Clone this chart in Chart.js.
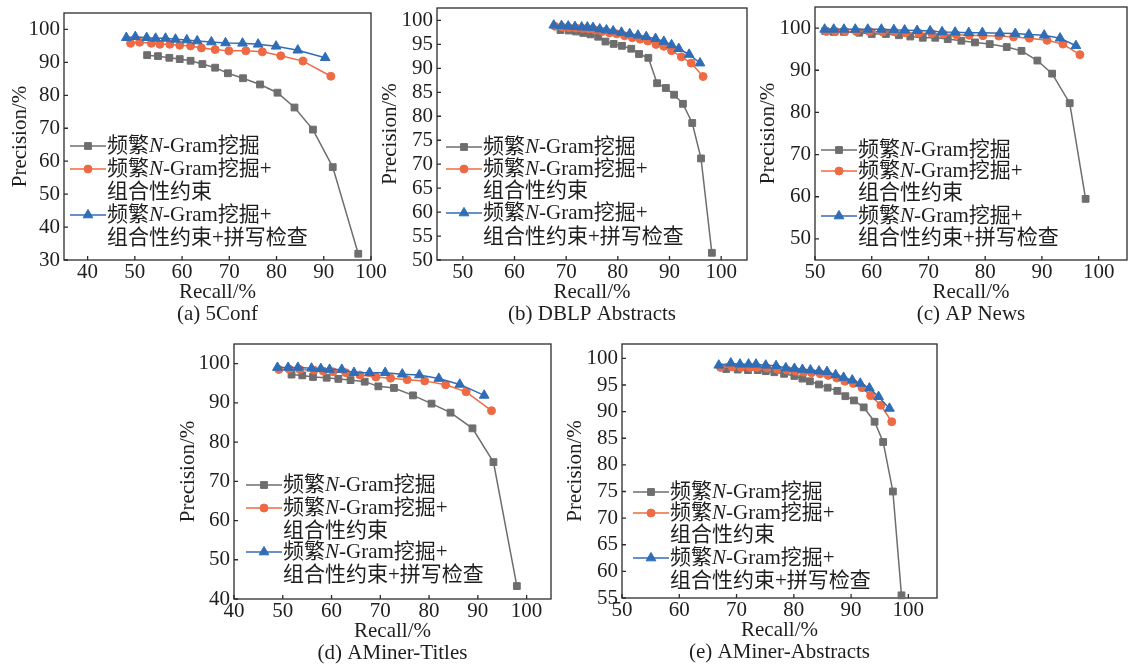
<!DOCTYPE html>
<html>
<head>
<meta charset="utf-8">
<script src="https://cdn.jsdelivr.net/npm/chart.js@4.4.1/dist/chart.umd.min.js"></script>
<style>
  html, body { margin: 0; padding: 0; background: #fff; overflow: hidden; width: 1129px; height: 667px; }
  canvas { position: absolute; }
</style>
</head>
<body>
<script>
// series names (legend), same in every panel
const seriesNames = ['频繁N-Gram挖掘', '频繁N-Gram挖掘+\n组合性约束', '频繁N-Gram挖掘+\n组合性约束+拼写检查'];
const captions = ['(a) 5Conf', '(b) DBLP Abstracts', '(c) AP News', '(d) AMiner-Titles', '(e) AMiner-Abstracts'];

// (a) 5Conf
const confRecallNgram = [52.6, 54.9, 57.3, 59.5, 61.8, 64.3, 67.0, 69.7, 72.9, 76.5, 80.2, 83.8, 87.7, 91.9, 97.3];
const confPrecNgram   = [92.2, 91.9, 91.4, 91.0, 90.5, 89.5, 88.4, 86.7, 85.2, 83.3, 80.8, 76.3, 69.6, 58.2, 31.9];
const confRecallComb  = [49.1, 51.0, 53.5, 55.3, 57.4, 59.5, 61.8, 64.1, 67.0, 69.9, 73.5, 77.0, 80.9, 85.6, 91.5];
const confPrecComb    = [95.8, 96.1, 95.8, 95.5, 95.5, 95.2, 95.0, 94.4, 93.9, 93.5, 93.5, 93.2, 92.0, 90.4, 85.8];
const confRecallSpell = [48.2, 50.1, 52.5, 54.4, 56.5, 58.6, 61.0, 63.2, 66.2, 69.2, 72.8, 76.1, 79.9, 84.5, 90.3];
const confPrecSpell   = [97.5, 97.8, 97.5, 97.3, 97.3, 97.0, 96.8, 96.5, 96.2, 95.9, 95.8, 95.5, 94.9, 93.7, 91.4];
const confXTicks = [40, 50, 60, 70, 80, 90, 100];
const confYTicks = [30, 40, 50, 60, 70, 80, 90, 100];

// (b) DBLP Abstracts
const dblpRecallNgram = [68.9, 70.5, 71.9, 73.3, 74.7, 76.2, 77.6, 79.2, 80.8, 82.6, 84.1, 85.9, 87.6, 89.3, 90.9, 92.6, 94.4, 96.1, 98.2];
const dblpPrecNgram   = [98.0, 97.9, 97.7, 97.4, 97.1, 96.6, 95.6, 95.1, 94.7, 94.1, 93.0, 92.2, 86.9, 85.9, 84.5, 82.6, 78.6, 71.2, 51.5];
const dblpRecallComb  = [67.8, 69.3, 70.6, 71.9, 73.2, 74.4, 75.6, 77.0, 78.4, 79.8, 81.3, 82.8, 84.3, 85.8, 87.4, 88.9, 90.4, 92.3, 94.2, 96.5];
const dblpPrecComb    = [98.8, 98.6, 98.5, 98.4, 98.3, 98.2, 98.0, 97.7, 97.4, 97.2, 96.8, 96.4, 96.1, 95.7, 95.0, 94.6, 93.7, 92.4, 91.1, 88.3];
const dblpRecallSpell = [67.6, 69.1, 70.4, 71.7, 73.0, 74.1, 75.2, 76.5, 77.8, 79.1, 80.7, 82.3, 83.9, 85.5, 87.3, 88.9, 90.4, 91.8, 93.8, 95.9];
const dblpPrecSpell   = [99.0, 98.9, 98.8, 98.7, 98.6, 98.6, 98.5, 98.2, 98.0, 97.8, 97.5, 97.2, 96.9, 96.6, 96.2, 95.6, 94.9, 94.1, 92.9, 91.1];
const dblpXTicks = [50, 60, 70, 80, 90, 100];
const dblpYTicks = [50, 55, 60, 65, 70, 75, 80, 85, 90, 95, 100];

// (c) AP News
const apRecallNgram = [51.8, 53.3, 55.1, 57.8, 60.0, 62.5, 64.8, 66.8, 69.0, 71.2, 73.4, 75.8, 78.2, 80.8, 83.8, 86.4, 89.2, 91.8, 94.9, 97.7];
const apPrecNgram   = [99.3, 99.1, 99.1, 98.9, 98.6, 98.6, 98.3, 98.0, 97.7, 97.7, 97.4, 97.0, 96.6, 96.2, 95.5, 94.6, 92.3, 89.2, 82.2, 59.5];
const apRecallComb  = [52.0, 53.6, 55.3, 57.3, 59.6, 61.9, 64.0, 66.0, 68.3, 70.6, 72.6, 74.9, 77.2, 79.6, 82.4, 85.0, 87.8, 90.9, 93.7, 96.7];
const apPrecComb    = [99.2, 99.2, 99.2, 99.2, 99.2, 99.1, 99.1, 98.9, 98.8, 98.7, 98.6, 98.4, 98.3, 98.2, 98.1, 97.9, 97.6, 97.1, 96.2, 93.7];
const apRecallSpell = [51.7, 53.3, 55.1, 57.1, 59.3, 61.7, 63.9, 65.8, 68.0, 70.3, 72.4, 74.7, 77.1, 79.5, 82.6, 85.3, 87.7, 90.4, 93.2, 96.0];
const apPrecSpell   = [99.7, 99.7, 99.7, 99.7, 99.7, 99.7, 99.6, 99.5, 99.4, 99.3, 99.1, 99.0, 98.9, 98.9, 98.8, 98.7, 98.5, 98.3, 97.6, 95.8];
const apXTicks = [50, 60, 70, 80, 90, 100];
const apYTicks = [50, 60, 70, 80, 90, 100];

// (d) AMiner-Titles
const titRecallNgram = [51.8, 54.0, 56.2, 59.0, 61.4, 63.9, 66.8, 69.6, 72.8, 76.7, 80.5, 84.4, 88.9, 93.2, 98.0];
const titPrecNgram   = [97.2, 97.0, 96.6, 96.4, 96.1, 95.8, 95.4, 94.2, 93.8, 91.9, 89.8, 87.5, 83.5, 74.9, 43.3];
const titRecallComb  = [49.2, 51.3, 53.5, 56.4, 58.3, 60.3, 62.9, 65.8, 69.1, 72.1, 75.5, 79.1, 83.4, 87.6, 92.8];
const titPrecComb    = [98.5, 98.6, 98.5, 98.3, 98.1, 97.9, 97.7, 97.1, 96.6, 96.3, 95.9, 95.6, 94.6, 92.8, 88.0];
const titRecallSpell = [48.9, 51.1, 53.1, 55.9, 57.8, 59.6, 62.1, 64.6, 67.8, 71.0, 74.5, 78.0, 82.0, 86.3, 91.3];
const titPrecSpell   = [99.0, 99.0, 99.0, 98.8, 98.7, 98.5, 98.5, 97.7, 97.7, 97.7, 97.3, 97.1, 96.2, 94.7, 91.9];
const titXTicks = [40, 50, 60, 70, 80, 90, 100];
const titYTicks = [40, 50, 60, 70, 80, 90, 100];

// (e) AMiner-Abstracts
const absRecallNgram = [68.2, 70.2, 72.0, 73.7, 75.1, 76.6, 78.3, 80.1, 81.5, 82.8, 84.4, 85.9, 87.6, 89.0, 90.5, 92.2, 94.1, 95.6, 97.3, 98.8];
const absPrecNgram   = [98.0, 97.9, 97.8, 97.8, 97.6, 97.4, 97.1, 96.7, 96.2, 95.7, 95.1, 94.5, 93.9, 92.9, 92.1, 90.8, 88.1, 84.3, 75.0, 55.5];
const absRecallComb  = [67.2, 69.2, 70.8, 72.3, 73.6, 75.3, 77.1, 78.8, 80.3, 81.7, 83.1, 84.6, 86.0, 87.5, 88.9, 90.4, 91.9, 93.4, 95.2, 97.1];
const absPrecComb    = [98.3, 98.4, 98.3, 98.3, 98.3, 98.2, 98.0, 97.8, 97.6, 97.4, 97.3, 97.1, 96.8, 96.3, 95.7, 95.3, 94.5, 93.0, 91.2, 88.1];
const absRecallSpell = [66.9, 69.0, 70.6, 72.1, 73.4, 75.1, 76.9, 78.6, 80.1, 81.5, 82.9, 84.4, 85.8, 87.3, 88.7, 90.2, 91.6, 93.2, 94.8, 96.7];
const absPrecSpell   = [98.7, 99.1, 98.9, 98.9, 98.9, 98.7, 98.6, 98.2, 98.1, 97.9, 97.8, 97.6, 97.5, 96.9, 96.4, 95.9, 95.3, 94.4, 92.8, 90.6];
const absXTicks = [50, 60, 70, 80, 90, 100];
const absYTicks = [55, 60, 65, 70, 75, 80, 85, 90, 95, 100];

const FONT = '"Liberation Serif", "Noto Sans CJK SC", serif';
const TEXT_COLOR = '#1e1e1e';
const FS = 21;

const seriesStyle = [
  { color: '#6e6e6e', pointStyle: 'rect', pointRadius: 4.8, order: 2 },
  { color: '#ee6a45', pointStyle: 'circle', pointRadius: 4, order: 1 },
  { color: '#2f6db6', pointStyle: 'triangle', pointRadius: 5.6, order: 0 }
];

// plot rectangles and legend offsets (pixels)
const panels = [
  { caption: captions[0], L: 64, T: 13, R: 371, B: 260, yW: 56, xMin: 35, xMax: 100, yMin: 30, yMax: 105,
    xTicks: confXTicks, yTicks: confYTicks,
    series: [[confRecallNgram, confPrecNgram], [confRecallComb, confPrecComb], [confRecallSpell, confPrecSpell]],
    legX: 6, legRows: [-114, -91, -68, -45, -22] },
  { caption: captions[1], L: 437, T: 8, R: 747, B: 260, yW: 59, xMin: 45, xMax: 105, yMin: 50, yMax: 102.6,
    xTicks: dblpXTicks, yTicks: dblpYTicks,
    series: [[dblpRecallNgram, dblpPrecNgram], [dblpRecallComb, dblpPrecComb], [dblpRecallSpell, dblpPrecSpell]],
    legX: 9, legRows: [-113, -91, -69, -47, -23] },
  { caption: captions[2], L: 815, T: 7, R: 1127, B: 260, yW: 59, xMin: 50, xMax: 105, yMin: 45, yMax: 105,
    xTicks: apXTicks, yTicks: apYTicks,
    series: [[apRecallNgram, apPrecNgram], [apRecallComb, apPrecComb], [apRecallSpell, apPrecSpell]],
    legX: 6, legRows: [-110, -89, -67, -44, -22] },
  { caption: captions[3], L: 234, T: 344, R: 551, B: 599, yW: 58, xMin: 40, xMax: 105, yMin: 40, yMax: 105,
    xTicks: titXTicks, yTicks: titYTicks,
    series: [[titRecallNgram, titPrecNgram], [titRecallComb, titPrecComb], [titRecallSpell, titPrecSpell]],
    legX: 12, legRows: [-114, -91, -68, -47, -24] },
  { caption: captions[4], L: 622, T: 344, R: 937, B: 598, yW: 59, xMin: 50, xMax: 105, yMin: 55, yMax: 102.7,
    xTicks: absXTicks, yTicks: absYTicks,
    series: [[absRecallNgram, absPrecNgram], [absRecallComb, absPrecComb], [absRecallSpell, absPrecSpell]],
    legX: 11, legRows: [-106, -85, -63, -40, -17] }
];

const PAD_TOP = 14, PAD_RIGHT = 24, X_H = 68;

// frame round the plot with short inward ticks
const framePlugin = {
  id: 'frame',
  beforeDatasetsDraw(chart) {
    const { ctx, chartArea: a, scales } = chart;
    ctx.save();
    ctx.strokeStyle = '#2b2b2b';
    ctx.lineWidth = 1.3;
    ctx.strokeRect(a.left, a.top, a.right - a.left, a.bottom - a.top);
    ctx.beginPath();
    scales.x.ticks.forEach(t => {
      const px = scales.x.getPixelForValue(t.value);
      ctx.moveTo(px, a.bottom); ctx.lineTo(px, a.bottom - 4);
    });
    scales.y.ticks.forEach(t => {
      const py = scales.y.getPixelForValue(t.value);
      ctx.moveTo(a.left, py); ctx.lineTo(a.left + 4, py);
    });
    ctx.stroke();
    ctx.restore();
  }
};

function drawRich(ctx, text, x, y) {
  text.split(/(N)/).forEach(p => {
    if (!p) return;
    ctx.font = (p === 'N' ? 'italic ' : '') + FS + 'px ' + FONT;
    ctx.fillText(p, x, y);
    x += ctx.measureText(p).width;
  });
}

// legend drawn inside the plot, lower left
const legendPlugin = {
  id: 'innerLegend',
  afterDatasetsDraw(chart, args, opts) {
    const { ctx, chartArea: a } = chart;
    let row = 0;
    chart.data.datasets.forEach(ds => {
      const lines = ds.label.split('\n');
      const y0 = a.bottom + opts.rows[row];
      const x1 = a.left + opts.x, x2 = x1 + 36;
      ctx.save();
      ctx.strokeStyle = ds.borderColor;
      ctx.fillStyle = ds.backgroundColor;
      ctx.lineWidth = ds.borderWidth;
      ctx.beginPath(); ctx.moveTo(x1, y0); ctx.lineTo(x2, y0); ctx.stroke();
      ctx.lineWidth = 1;
      Chart.helpers.drawPoint(ctx, { pointStyle: ds.pointStyle, radius: ds.pointRadius, borderWidth: 1, rotation: 0 }, (x1 + x2) / 2, y0);
      ctx.fillStyle = TEXT_COLOR;
      ctx.textBaseline = 'middle';
      ctx.textAlign = 'left';
      lines.forEach(line => {
        drawRich(ctx, line, x2 + 1, a.bottom + opts.rows[row]);
        row++;
      });
      ctx.restore();
    });
  }
};

panels.forEach(p => {
  const cv = document.createElement('canvas');
  const w = p.yW + (p.R - p.L) + PAD_RIGHT;
  const h = PAD_TOP + (p.B - p.T) + X_H;
  cv.width = w; cv.height = h;
  cv.style.left = (p.L - p.yW) + 'px';
  cv.style.top = (p.T - PAD_TOP) + 'px';
  cv.style.width = w + 'px'; cv.style.height = h + 'px';
  document.body.appendChild(cv);

  const datasets = p.series.map((s, i) => ({
    label: seriesNames[i],
    data: s[0].map((x, k) => ({ x: x, y: s[1][k] })),
    borderColor: seriesStyle[i].color,
    backgroundColor: seriesStyle[i].color,
    borderWidth: 1.5,
    pointStyle: seriesStyle[i].pointStyle,
    pointRadius: seriesStyle[i].pointRadius,
    pointBorderWidth: 1,
    tension: 0,
    clip: false,
    order: seriesStyle[i].order
  }));

  new Chart(cv, {
    type: 'line',
    data: { datasets: datasets },
    options: {
      responsive: false,
      animation: false,
      devicePixelRatio: 1,
      layout: { padding: { top: PAD_TOP, right: PAD_RIGHT, left: 0, bottom: 0 } },
      plugins: {
        legend: { display: false },
        tooltip: { enabled: false },
        innerLegend: { x: p.legX, rows: p.legRows }
      },
      scales: {
        x: {
          type: 'linear', min: p.xMin, max: p.xMax,
          grid: { display: false, drawTicks: false, tickLength: 0 }, border: { display: false },
          ticks: { font: { family: FONT, size: FS, lineHeight: 1 }, color: TEXT_COLOR, padding: 2, maxRotation: 0, autoSkip: false },
          title: { display: true, text: ['Recall/%', p.caption], color: TEXT_COLOR,
                   font: { family: FONT, size: FS, lineHeight: 1.05 }, padding: { top: 0, bottom: 2 } },
          afterBuildTicks: s => { s.ticks = p.xTicks.map(v => ({ value: v })); },
          afterFit: s => { s.height = X_H; s.paddingLeft = 0; s.paddingRight = 0; }
        },
        y: {
          type: 'linear', min: p.yMin, max: p.yMax,
          grid: { display: false, drawTicks: false, tickLength: 0 }, border: { display: false },
          ticks: { font: { family: FONT, size: FS, lineHeight: 1 }, color: TEXT_COLOR, padding: 4, autoSkip: false },
          title: { display: true, text: 'Precision/%', color: TEXT_COLOR,
                   font: { family: FONT, size: FS, lineHeight: 1 }, padding: { top: 2, bottom: 0 } },
          afterBuildTicks: s => { s.ticks = p.yTicks.map(v => ({ value: v })); },
          afterFit: s => { s.width = p.yW; s.paddingTop = 0; s.paddingBottom = 0; }
        }
      }
    },
    plugins: [framePlugin, legendPlugin]
  });
});
</script>
</body>
</html>
